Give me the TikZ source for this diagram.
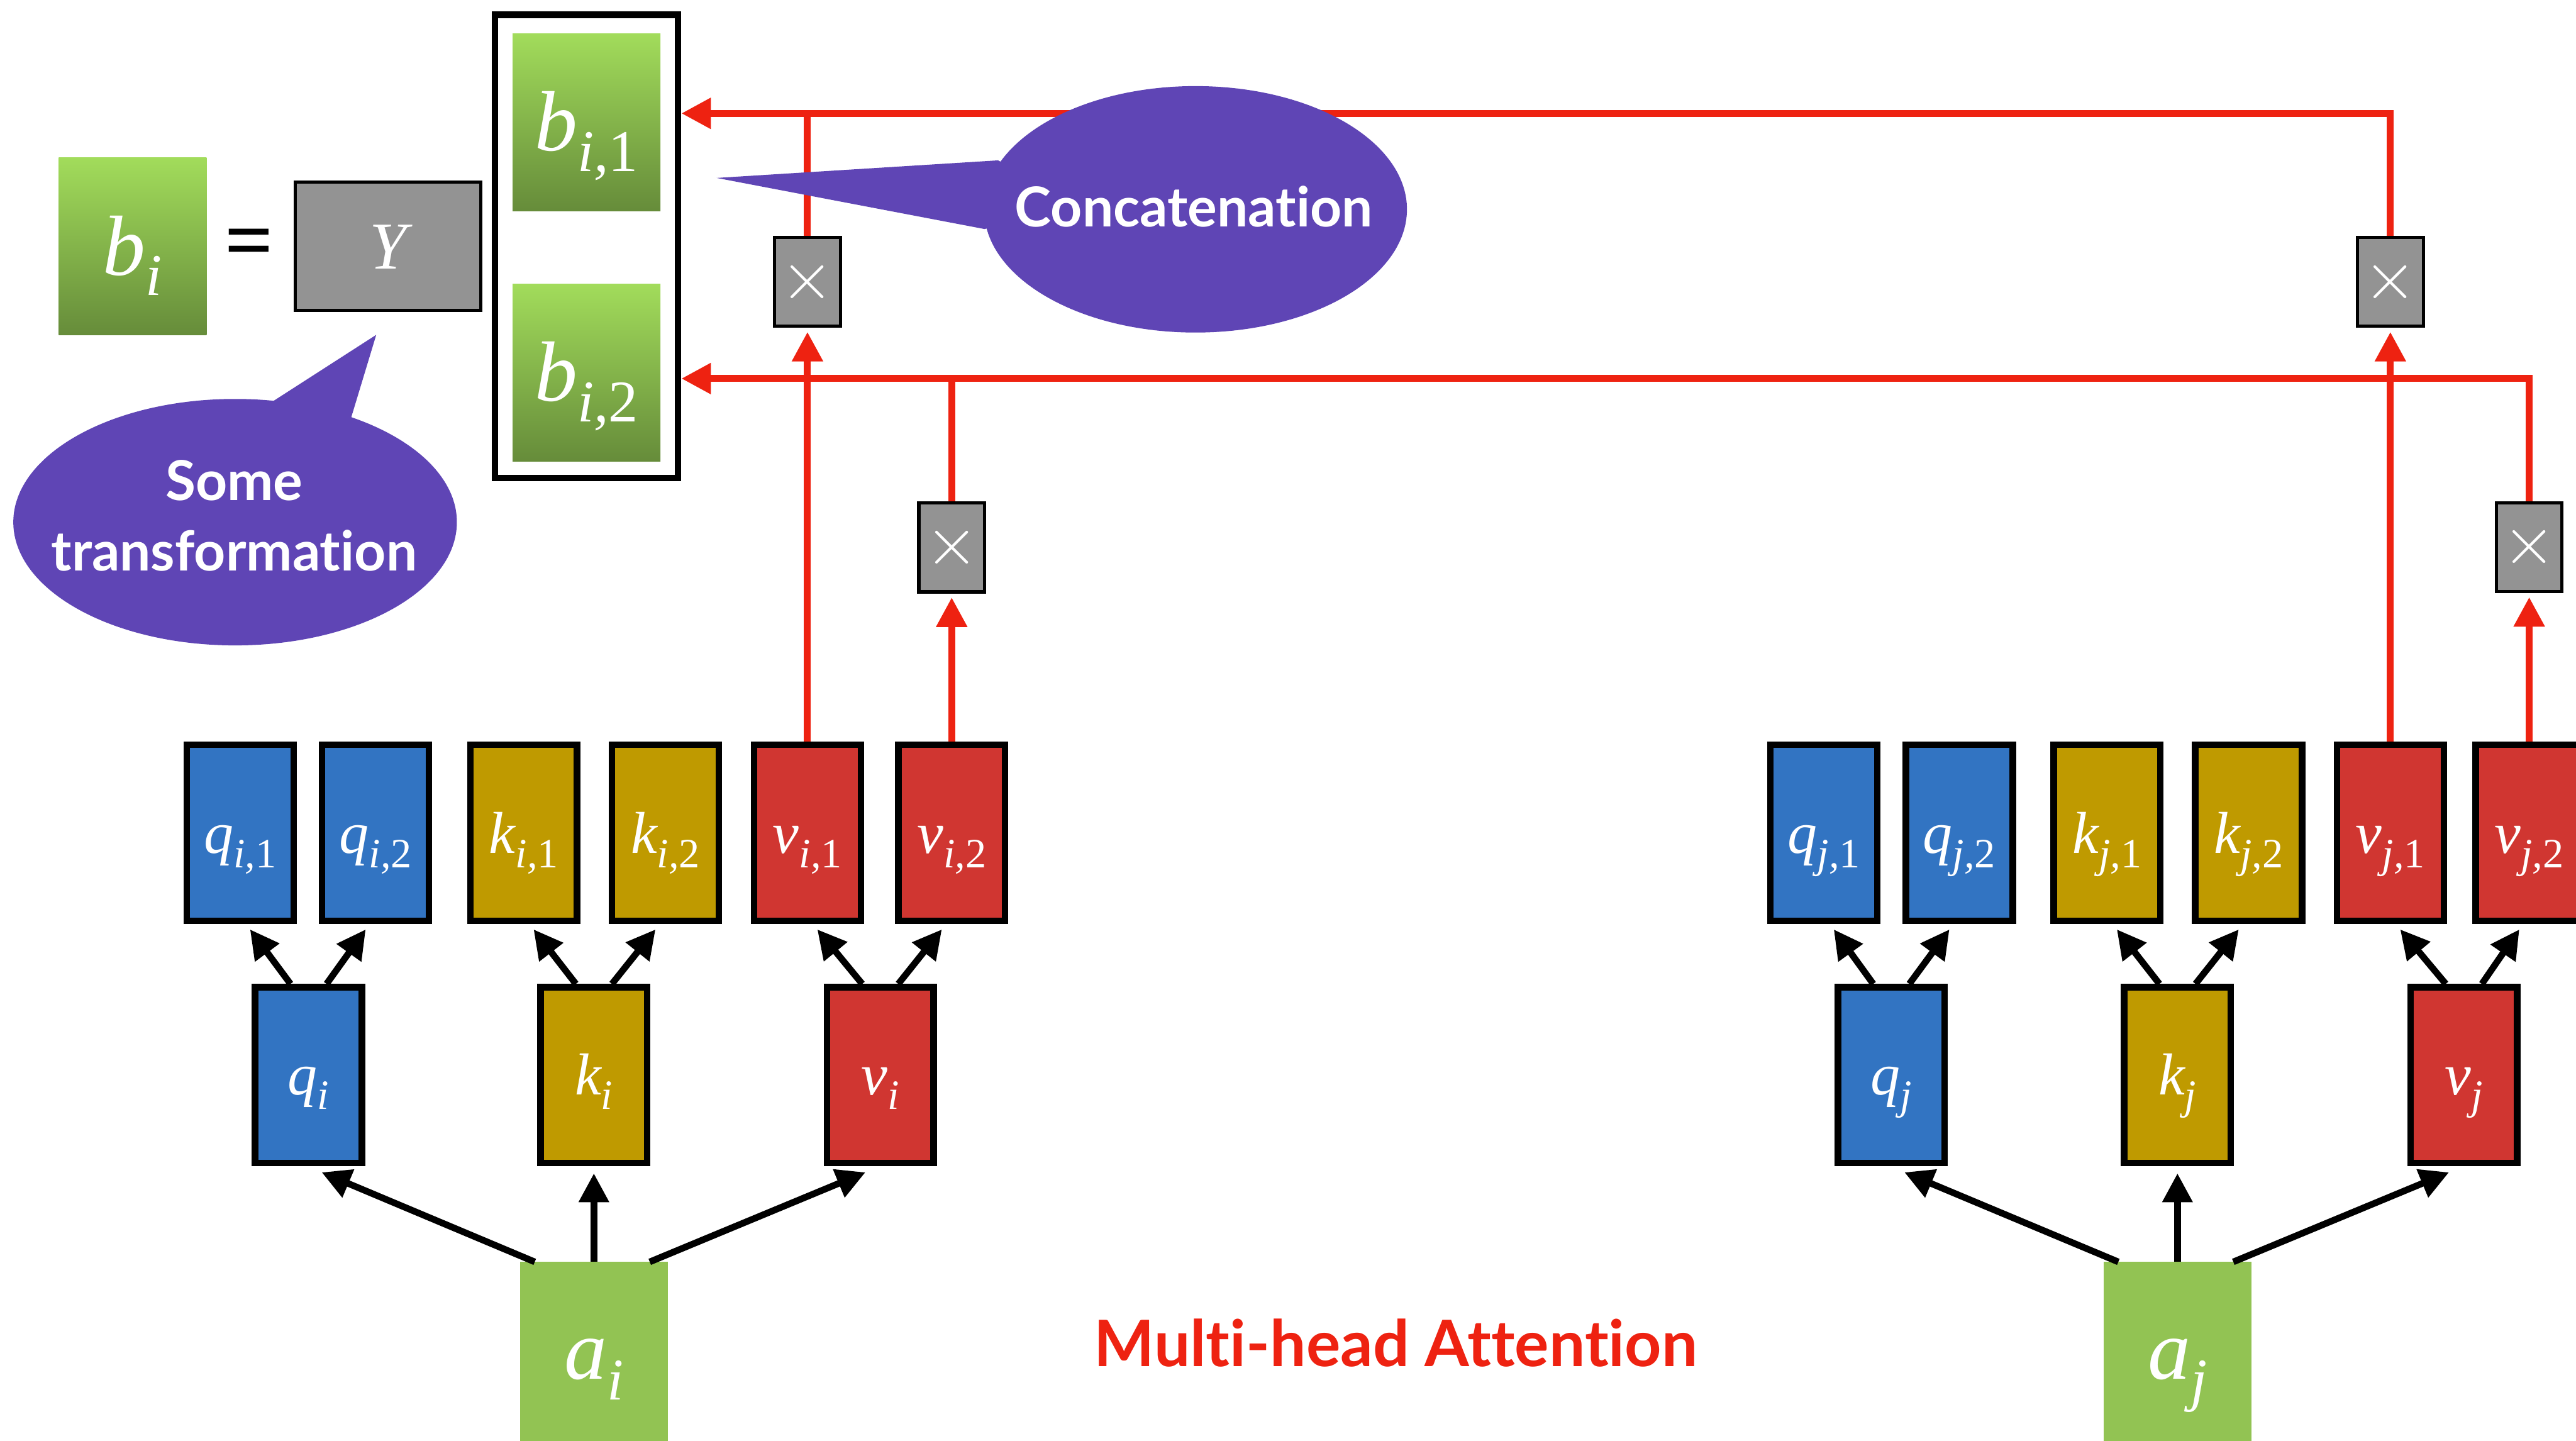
\documentclass[tikz,border=0pt]{standalone}
\usepackage{fontspec}
\setmainfont{Liberation Serif}
\newfontfamily\callfont{Lato}[Ligatures=NoCommon]
\usetikzlibrary{arrows.meta,calc}

\definecolor{qblue}{HTML}{3274C2}
\definecolor{kgold}{HTML}{BF9A00}
\definecolor{vred}{HTML}{D03631}
\definecolor{agreen}{HTML}{92C353}
\definecolor{gtop}{HTML}{A2DC5B}
\definecolor{gbot}{HTML}{668C3A}
\definecolor{mgray}{HTML}{939393}
\definecolor{callpurple}{HTML}{5F45B5}
\definecolor{wirered}{HTML}{EE2211}

% letter with a lowered subscript, small and large versions
\newcommand\hsub[2]{#1\raisebox{-4.4pt}{\fontsize{12.7}{12.7}\selectfont #2}}
\newcommand\bsub[2]{#1\raisebox{-6.3pt}{\fontsize{18}{18}\selectfont #2}}
% upright head number inside an italic subscript
\newcommand\hd[1]{\textup{#1}}

\begin{document}
\begin{tikzpicture}[x=0.5pt,y=-0.5pt,
  headbox/.style={draw=black, line width=2pt, minimum width=32.5pt,
    minimum height=53.5pt, inner sep=0pt, text=white,
    font=\fontsize{18}{18}\selectfont\itshape, text height=12.4pt, text depth=0pt},
  projbox/.style={headbox, text height=11.9pt},
  qfill/.style={fill=qblue},
  kfill/.style={fill=kgold},
  vfill/.style={fill=vred},
  mulbox/.style={draw=black, line width=1pt, fill=mgray, minimum width=20pt,
    minimum height=27pt, inner sep=0pt, text=white, font=\fontsize{21}{21}\selectfont},
  greenbox/.style={top color=gtop, bottom color=gbot, minimum width=45pt,
    minimum height=54pt, inner sep=0pt, outer sep=0pt, text=white,
    font=\fontsize{26}{26}\selectfont\itshape, text height=17.4pt, text depth=0pt},
  inbox/.style={fill=agreen, minimum width=45pt, minimum height=54.5pt,
    inner sep=0pt, outer sep=0pt, text=white,
    font=\fontsize{26}{26}\selectfont\itshape, text height=16.8pt, text depth=0pt},
  blk/.style={draw=black, line width=2pt, -{Triangle[length=8.8pt,width=8.8pt]}},
  wire/.style={draw=wirered, line width=2.1pt},
  wirearr/.style={wire, -{Triangle[length=9pt,width=9pt]}},
  calltext/.style={text=white, font=\callfont\bfseries\fontsize{16.75}{21.45}\selectfont,
    align=center, inner sep=0pt},
]
\useasboundingbox (0,0) rectangle (1568,877);

% ---------- output side ----------
\node[greenbox] (bi) at (80.75,149.9) {\bsub{b}{i}};
\node[font=\fontsize{26}{26}\selectfont\bfseries, inner sep=0pt] (eq) at (151.8,151.5) {=};
\node[draw=black, line width=1pt, fill=mgray, minimum width=56.5pt, minimum height=39pt,
  inner sep=0pt, text=white, font=\fontsize{20.4}{20.4}\selectfont\itshape,
  text height=13.7pt, text depth=0pt] (ybox) at (236.25,149.85) {Y};
\node[draw=black, line width=2pt, minimum width=55.75pt, minimum height=141pt,
  inner sep=0pt] (frame) at (357,150) {};
\node[greenbox] (bi1) at (357,74.3) {\bsub{b}{i,\hd{1}}};
\node[greenbox] (bi2) at (357,226.7) {\bsub{b}{i,\hd{2}}};

% ---------- input i ----------
\node[headbox,qfill] (qi1) at (146.2,506.85) {\hsub{q}{i,\hd{1}}};
\node[headbox,qfill] (qi2) at (228.6,506.85) {\hsub{q}{i,\hd{2}}};
\node[headbox,kfill] (ki1) at (318.8,506.85) {\hsub{k}{i,\hd{1}}};
\node[headbox,kfill] (ki2) at (405,506.85) {\hsub{k}{i,\hd{2}}};
\node[headbox,vfill] (vi1) at (491.5,506.85) {\hsub{v}{i,\hd{1}}};
\node[headbox,vfill] (vi2) at (579.3,506.85) {\hsub{v}{i,\hd{2}}};
\node[projbox,qfill] (qi) at (187.8,654.3) {\hsub{q}{i}};
\node[projbox,kfill] (ki) at (361.5,654.3) {\hsub{k}{i}};
\node[projbox,vfill] (vi) at (535.8,654.3) {\hsub{v}{i}};
\node[inbox] (ai) at (361.5,822.5) {\bsub{a}{i}};

% ---------- input j ----------
\node[headbox,qfill] (qj1) at (1110.2,506.85) {\hsub{q}{j,\hd{1}}};
\node[headbox,qfill] (qj2) at (1192.6,506.85) {\hsub{q}{j,\hd{2}}};
\node[headbox,kfill] (kj1) at (1282.5,506.85) {\hsub{k}{j,\hd{1}}};
\node[headbox,kfill] (kj2) at (1368.7,506.85) {\hsub{k}{j,\hd{2}}};
\node[headbox,vfill] (vj1) at (1455,506.85) {\hsub{v}{j,\hd{1}}};
\node[headbox,vfill] (vj2) at (1539.5,506.85) {\hsub{v}{j,\hd{2}}};
\node[projbox,qfill] (qj) at (1151.2,654.3) {\hsub{q}{j}};
\node[projbox,kfill] (kj) at (1325.4,654.3) {\hsub{k}{j}};
\node[projbox,vfill] (vj) at (1499.7,654.3) {\hsub{v}{j}};
\node[inbox] (aj) at (1325.4,822.5) {\bsub{a}{j}};

% ---------- multiplier boxes ----------
\node[mulbox] (mi1) at (491.5,171.6) {$\times$};
\node[mulbox] (mi2) at (579.3,333.2) {$\times$};
\node[mulbox] (mj1) at (1455,171.6) {$\times$};
\node[mulbox] (mj2) at (1539.5,333) {$\times$};

% ---------- projections ----------
\foreach \a/\q/\k/\v in {ai/qi/ki/vi, aj/qj/kj/vj}{
  \draw[blk] ($(\a.north)+(-36,0)$) -- ($(\q.south)+(8,3.7)$);
  \draw[blk] (\a.north) -- ($(\k.south)+(0,4.3)$);
  \draw[blk] ($(\a.north)+(34,0)$) -- ($(\v.south)+(-9,3.7)$);
}
\foreach \s/\l/\r in {qi/qi1/qi2, ki/ki1/ki2, vi/vi1/vi2, qj/qj1/qj2, kj/kj1/kj2, vj/vj1/vj2}{
  \draw[blk] ($(\s.north)+(-11,0)$) -- ($(\l.south)+(6,3.3)$);
  \draw[blk] ($(\s.north)+(11,0)$) -- ($(\r.south)+(-6,3.3)$);
}

% ---------- head outputs ----------
\coordinate (t1) at (frame.east |- 0,69);
\coordinate (t2) at (frame.east |- 0,230.4);
\draw[wirearr, shorten >=1.2pt] (vi1.north) -- (mi1.south);
\draw[wirearr, shorten >=1.2pt] (vi2.north) -- (mi2.south);
\draw[wirearr, shorten >=1.2pt] (vj1.north) -- (mj1.south);
\draw[wirearr, shorten >=1.2pt] (vj2.north) -- (mj2.south);
\draw[wirearr] (mj1.north) |- (t1);
\draw[wire] (mi1.north) -- (mi1.north |- t1);
\draw[wirearr] (mj2.north) |- (t2);
\draw[wire] (mi2.north) -- (mi2.north |- t2);

% ---------- callouts ----------
\fill[callpurple] (143.1,317.8) ellipse [x radius=67.5pt, y radius=37.5pt];
\fill[callpurple] (166.5,244) -- (229,203.8) -- (213.8,254) -- (190,290) -- cycle;
\node[calltext, anchor=base] (trans) at (142.5,347.4) {Some\\transformation};

\fill[callpurple] (727.7,127.4) ellipse [x radius=64.35pt, y radius=37.5pt];
\fill[callpurple] (607.5,97.6) -- (436.2,108.3) -- (599.3,139.4) -- (660,125) -- cycle;
\node[calltext, anchor=base] (concat) at (726.7,138) {Concatenation};

\node[anchor=base, inner sep=0pt, text=wirered,
  font=\callfont\bfseries\fontsize{19.5}{19.5}\selectfont] (title) at (849.7,831.6) {Multi-head Attention};
\end{tikzpicture}
\end{document}
